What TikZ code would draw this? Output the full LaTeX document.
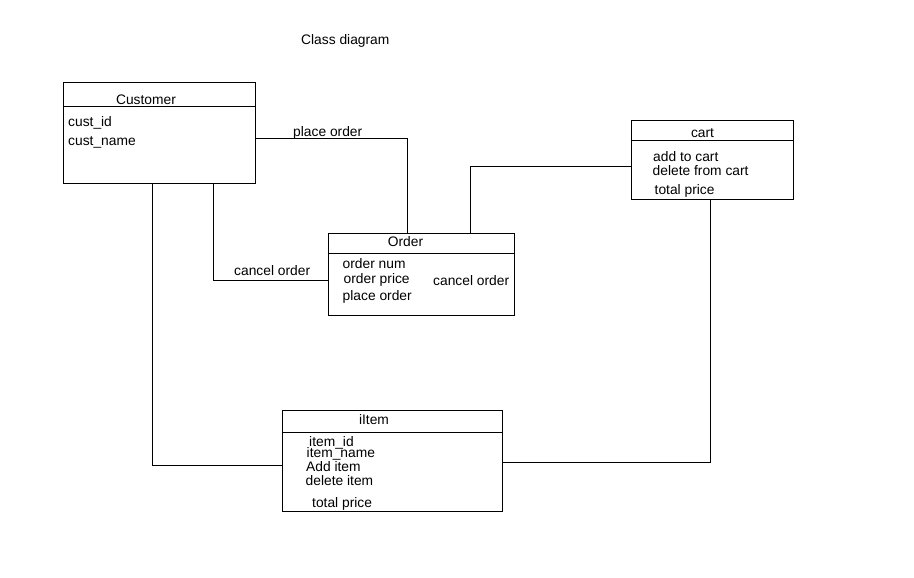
\documentclass[tikz,border=0pt]{standalone}
\usepackage{fontspec}
\setmainfont{Liberation Sans}
\begin{document}
\begin{tikzpicture}[x=1pt,y=-1pt,
  box/.style={draw,line width=1pt,rectangle,inner sep=0pt},
  txt/.style={anchor=base west,inner sep=0pt,font=\fontsize{13.8}{15}\selectfont},
  ttl/.style={anchor=base,inner sep=0pt,font=\fontsize{13.8}{15}\selectfont},
  link/.style={draw,line width=1pt}]
\useasboundingbox[fill=white] (0,0) rectangle (914,578);
% title
\node[txt] (title) at (301,45) {Class diagram};
% boxes
\node[box,minimum width=192pt,minimum height=100pt] (cust) at (159,133) {};
\node[box,minimum width=186pt,minimum height=82pt] (order) at (421,274) {};
\node[box,minimum width=162pt,minimum height=78pt] (cart) at (712,160) {};
\node[box,minimum width=220pt,minimum height=101pt] (item) at (392,460.5) {};
% dividers
\draw[line width=1pt] (cust.west |- 0,107) -- (cust.east |- 0,107);
\draw[line width=1pt] (order.west |- 0,253) -- (order.east |- 0,253);
\draw[line width=1pt] (cart.west |- 0,140) -- (cart.east |- 0,140);
\draw[line width=1pt] (item.west |- 0,432) -- (item.east |- 0,432);
% Customer
\node[ttl] (custT) at (146,105) {Customer};
\node[txt] (c1) at (68,127) {cust\_id};
\node[txt] (c2) at (68,146) {cust\_name};
% Order
\node[ttl] (orderT) at (405.5,246.5) {Order};
\node[txt] (o1) at (342.5,268.5) {order num};
\node[txt] (o2) at (343.5,283) {order price};
\node[txt] (o3) at (342.5,300) {place order};
\node[txt] (o4) at (433,285) {cancel order};
% cart
\node[ttl] (cartT) at (702.5,137) {cart};
\node[txt] (k1) at (653,161.5) {add to cart};
\node[txt] (k2) at (652.5,175.5) {delete from cart};
\node[txt] (k3) at (654.5,194) {total price};
% iItem
\node[ttl] (itemT) at (374,424) {iItem};
\node[txt] (i1) at (309,446.5) {item\_id};
\node[txt] (i2) at (306.5,457.5) {item\_name};
\node[txt] (i3) at (306,471.5) {Add item};
\node[txt] (i4) at (305.5,485.5) {delete item};
\node[txt] (i5) at (312,507.5) {total price};
% connectors
\draw[link] (cust.east |- 0,138) -| (order.north -| 407,0);
\node[txt] (l1) at (293,136) {place order};
\draw[link] (cust.south -| 213,0) |- (order.west |- 0,280);
\node[txt] (l2) at (234,275) {cancel order};
\draw[link] (cust.south -| 152,0) |- (item.west |- 0,465);
\draw[link] (order.north -| 470,0) |- (cart.west |- 0,166);
\draw[link] (cart.south -| 710,0) |- (item.east |- 0,462);
\end{tikzpicture}
\end{document}
